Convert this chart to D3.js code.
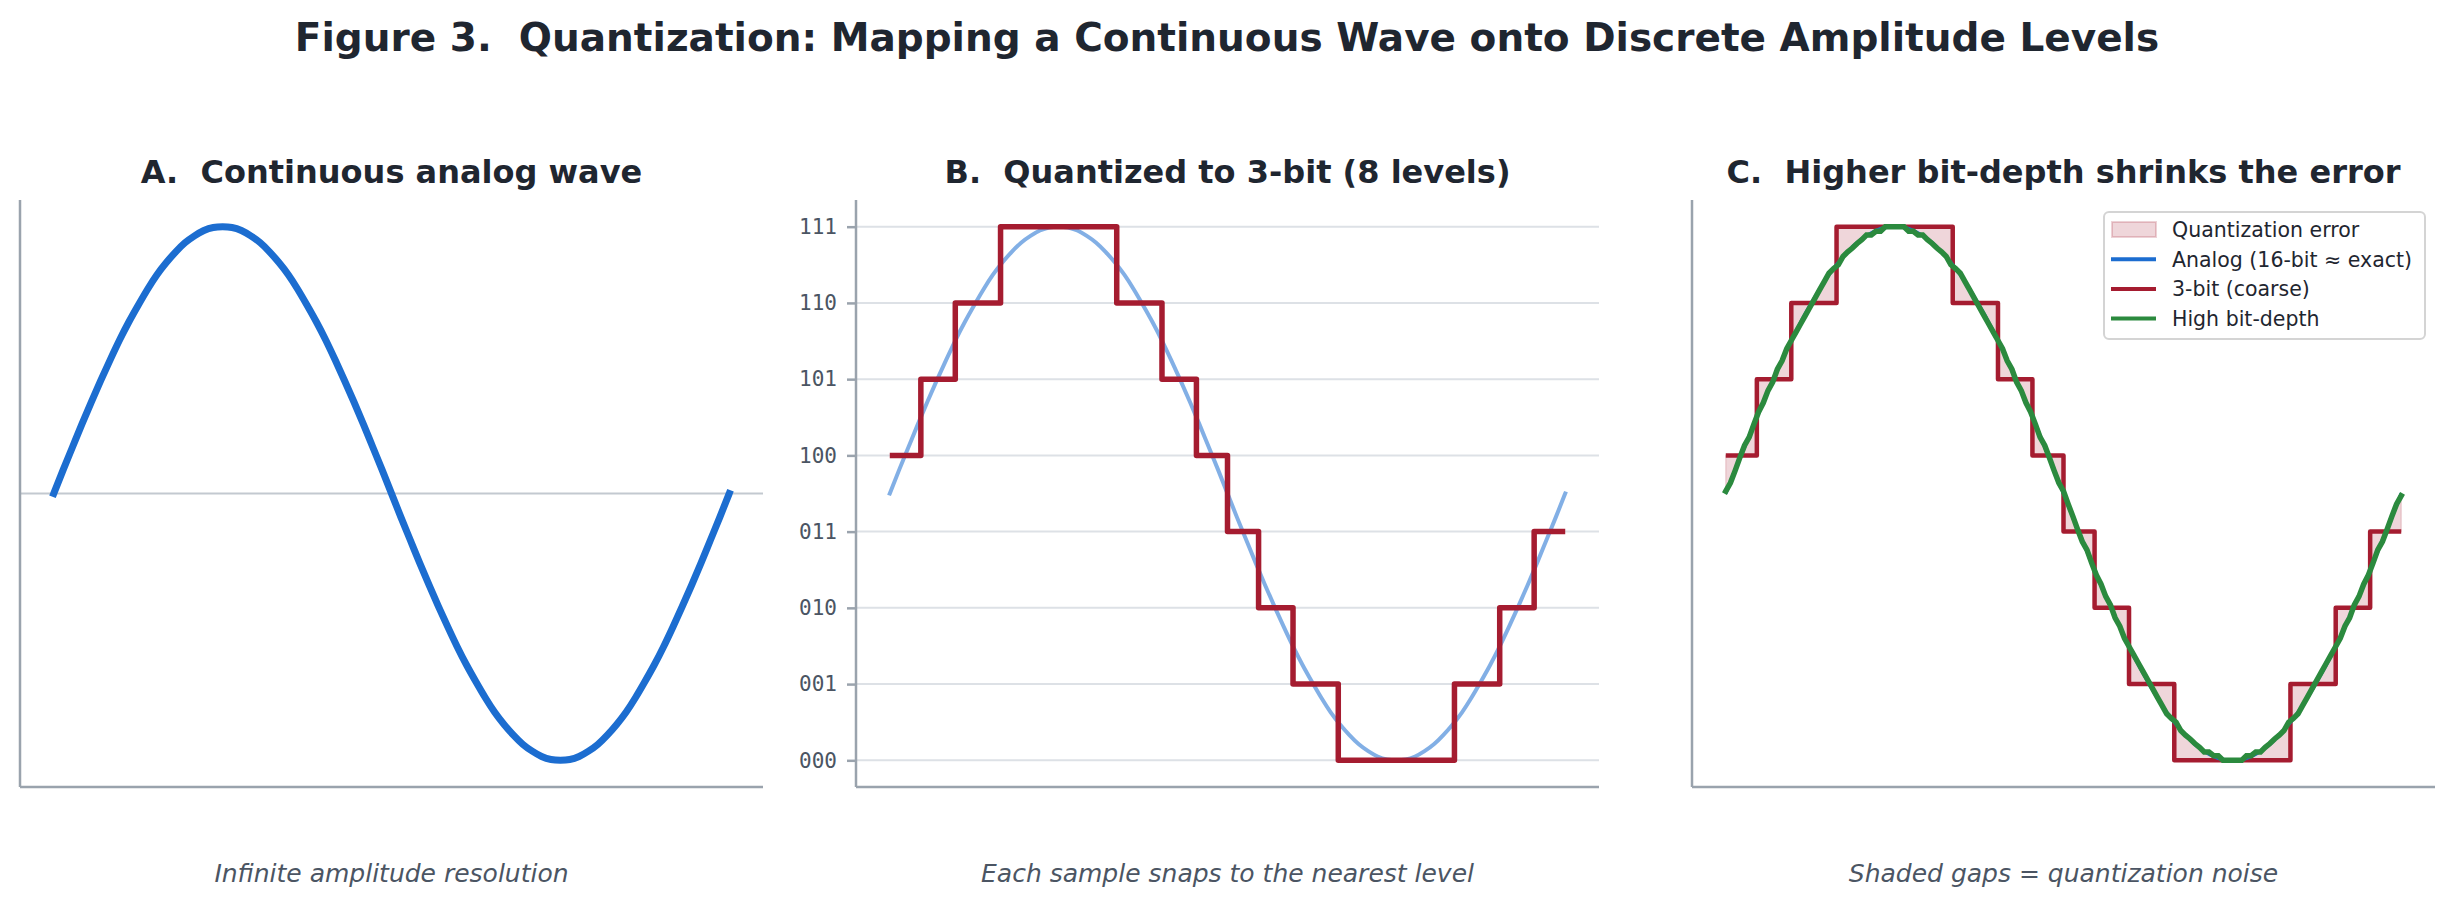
<!DOCTYPE html>
<html>
<head>
<meta charset="utf-8">
<script src="https://cdnjs.cloudflare.com/ajax/libs/d3/7.8.5/d3.min.js"></script>
<style>
  body { margin: 0; background: #fff; }
  text { font-family: "DejaVu Sans", sans-serif; }
</style>
</head>
<body>
<div id="chart"></div>
<script>
// ---- data ----
var levelLabels = ["000", "001", "010", "011", "100", "101", "110", "111"];

// one period of the analog wave, in level units (73 samples)
var analogWave = [
  3.50, 3.81, 4.11, 4.41, 4.70, 4.98, 5.25, 5.51, 5.75, 5.97, 6.18, 6.37, 6.53, 6.67, 6.79, 6.88, 6.95, 6.99, 7.00,
  6.99, 6.95, 6.88, 6.79, 6.67, 6.53, 6.37, 6.18, 5.97, 5.75, 5.51, 5.25, 4.98, 4.70, 4.41, 4.11, 3.81, 3.50,
  3.19, 2.89, 2.59, 2.30, 2.02, 1.75, 1.49, 1.25, 1.03, 0.82, 0.63, 0.47, 0.33, 0.21, 0.12, 0.05, 0.01, 0.00,
  0.01, 0.05, 0.12, 0.21, 0.33, 0.47, 0.63, 0.82, 1.03, 1.25, 1.49, 1.75, 2.02, 2.30, 2.59, 2.89, 3.19, 3.50
];

// 3-bit staircase: where each level starts (fraction of the period) and its level
var stepEdges  = [0, 0.046, 0.097, 0.164, 0.336, 0.403, 0.454, 0.5, 0.546, 0.597, 0.664, 0.836, 0.903, 0.954, 1];
var stepLevels = [4, 5, 6, 7, 6, 5, 4, 3, 2, 1, 0, 1, 2, 3];

// high bit-depth version (145 samples)
var highBitWave = [
  3.53, 3.64, 3.80, 3.97, 4.13, 4.24, 4.41, 4.57, 4.69, 4.85, 4.96, 5.13, 5.24, 5.40, 5.51, 5.62, 5.73, 5.84, 5.95,
  6.06, 6.17, 6.28, 6.39, 6.45, 6.50, 6.61, 6.67, 6.72, 6.78, 6.83, 6.89, 6.89, 6.94, 6.94, 7.00, 7.00, 7.00,
  7.00, 7.00, 6.94, 6.94, 6.89, 6.89, 6.83, 6.78, 6.72, 6.67, 6.61, 6.50, 6.45, 6.39, 6.28, 6.17, 6.06, 5.95,
  5.84, 5.73, 5.62, 5.51, 5.40, 5.24, 5.13, 4.96, 4.85, 4.69, 4.57, 4.41, 4.24, 4.13, 3.97, 3.80, 3.64, 3.53,
  3.36, 3.20, 3.03, 2.87, 2.76, 2.59, 2.43, 2.31, 2.15, 2.04, 1.87, 1.76, 1.60, 1.49, 1.38, 1.27, 1.16, 1.05,
  0.94, 0.83, 0.72, 0.61, 0.55, 0.50, 0.39, 0.33, 0.28, 0.22, 0.17, 0.11, 0.11, 0.06, 0.06, 0.00, 0.00, 0.00,
  0.00, 0.00, 0.06, 0.06, 0.11, 0.11, 0.17, 0.22, 0.28, 0.33, 0.39, 0.50, 0.55, 0.61, 0.72, 0.83, 0.94, 1.05,
  1.16, 1.27, 1.38, 1.49, 1.60, 1.76, 1.87, 2.04, 2.15, 2.31, 2.43, 2.59, 2.76, 2.87, 3.03, 3.20, 3.36, 3.47
];

var figTitle = "Figure 3.  Quantization: Mapping a Continuous Wave onto Discrete Amplitude Levels";
var panelTitles = ["A.  Continuous analog wave", "B.  Quantized to 3-bit (8 levels)", "C.  Higher bit-depth shrinks the error"];
var panelNotes = ["Infinite amplitude resolution", "Each sample snaps to the nearest level", "Shaded gaps = quantization noise"];
var legendLabels = ["Quantization error", "Analog (16-bit \u2248 exact)", "3-bit (coarse)", "High bit-depth"];

// ---- styles ----
var BLUE = "#1c6dd0", RED = "#a51c30", GREEN = "#2b8a3e";
var SPINE = "#9aa3ad", INK = "#1f2630", MUTED = "#4b5563";

var W = 2454, H = 908;
var panelX = [20, 856, 1692], panelW = 743, panelTop = 200, panelBottom = 787;
var ph = panelBottom - panelTop;

var svg = d3.select("#chart").append("svg")
    .attr("width", W).attr("height", H);

svg.append("text")
    .attr("x", W / 2).attr("y", 51)
    .attr("text-anchor", "middle")
    .attr("font-size", 39).attr("font-weight", "bold")
    .attr("fill", INK)
    .style("white-space", "pre")
    .text(figTitle);

var x = d3.scaleLinear().domain([-0.05, 1.05]).range([0, panelW]);
var y = d3.scaleLinear().domain([-0.35, 7.35]).range([ph, 0]);

var analogPts = analogWave.map(function(v, i) { return [i / (analogWave.length - 1), v]; });
var highPts = highBitWave.map(function(v, i) { return [i / (highBitWave.length - 1), v]; });
var stepPts = stepLevels.map(function(l, i) { return [stepEdges[i], l]; });
stepPts.push([stepEdges[stepEdges.length - 1], stepLevels[stepLevels.length - 1]]);

var smooth = d3.line().x(function(d) { return x(d[0]); }).y(function(d) { return y(d[1]); }).curve(d3.curveNatural);
var straight = d3.line().x(function(d) { return x(d[0]); }).y(function(d) { return y(d[1]); });
var stairs = d3.line().x(function(d) { return x(d[0]); }).y(function(d) { return y(d[1]); }).curve(d3.curveStepAfter);

function panel(i) {
  var g = svg.append("g").attr("transform", "translate(" + panelX[i] + "," + panelTop + ")");
  svg.append("text")
      .attr("x", panelX[i] + panelW / 2).attr("y", 183)
      .attr("text-anchor", "middle")
      .attr("font-size", 32).attr("font-weight", "bold")
      .attr("fill", INK)
      .style("white-space", "pre")
      .text(panelTitles[i]);
  svg.append("text")
      .attr("x", panelX[i] + panelW / 2).attr("y", 882)
      .attr("text-anchor", "middle")
      .attr("font-size", 25).attr("font-style", "italic")
      .attr("fill", MUTED)
      .text(panelNotes[i]);
  return g;
}

function spines(g) {
  g.append("line").attr("x1", 0).attr("x2", 0).attr("y1", 0).attr("y2", ph)
      .attr("stroke", SPINE).attr("stroke-width", 2.5);
  g.append("line").attr("x1", 0).attr("x2", panelW).attr("y1", ph).attr("y2", ph)
      .attr("stroke", SPINE).attr("stroke-width", 2.5);
}

// ---- A ----
var gA = panel(0);
gA.append("line")
    .attr("x1", 0).attr("x2", panelW).attr("y1", y(3.5)).attr("y2", y(3.5))
    .attr("stroke", "#c3c9d0").attr("stroke-width", 2);
gA.append("path")
    .attr("d", smooth(analogPts))
    .attr("fill", "none").attr("stroke", BLUE).attr("stroke-width", 7)
    .attr("stroke-linecap", "square").attr("stroke-linejoin", "round");
spines(gA);

// ---- B ----
var gB = panel(1);
gB.selectAll(".grid").data(d3.range(levelLabels.length)).enter().append("line")
    .attr("x1", 0).attr("x2", panelW)
    .attr("y1", function(d) { return y(d); }).attr("y2", function(d) { return y(d); })
    .attr("stroke", "#dde1e6").attr("stroke-width", 2);
gB.append("path")
    .attr("d", smooth(analogPts))
    .attr("fill", "none").attr("stroke", BLUE).attr("stroke-opacity", 0.55).attr("stroke-width", 4)
    .attr("stroke-linecap", "square");
gB.append("path")
    .attr("d", stairs(stepPts))
    .attr("fill", "none").attr("stroke", RED).attr("stroke-width", 5.5)
    .attr("stroke-linejoin", "round");
var yAxis = gB.append("g")
    .call(d3.axisLeft(y)
      .tickValues(d3.range(levelLabels.length))
      .tickFormat(function(d) { return levelLabels[d]; })
      .tickSize(9).tickPadding(10));
yAxis.select(".domain").remove();
yAxis.selectAll(".tick line").attr("stroke", SPINE).attr("stroke-width", 2.5);
yAxis.selectAll(".tick text")
    .attr("fill", MUTED)
    .style("font-family", "'DejaVu Sans Mono', monospace")
    .style("font-size", "21px");
spines(gB);

// ---- C ----
var gC = panel(2);
// area between the analog wave and the staircase
var stepVerts = [];
for (var k = 0; k < stepLevels.length; k++) {
  stepVerts.push([stepEdges[k], stepLevels[k]]);
  stepVerts.push([stepEdges[k + 1], stepLevels[k]]);
}
stepVerts.reverse();
var errPath = smooth(analogPts) + straight(stepVerts).replace(/^M/, "L") + "Z";
gC.append("path")
    .attr("d", errPath)
    .attr("fill", RED).attr("fill-opacity", 0.18)
    .attr("stroke", RED).attr("stroke-opacity", 0.15).attr("stroke-width", 1.5);
gC.append("path")
    .attr("d", stairs(stepPts))
    .attr("fill", "none").attr("stroke", RED).attr("stroke-width", 4.5)
    .attr("stroke-linejoin", "round");
gC.append("path")
    .attr("d", smooth(analogPts))
    .attr("fill", "none").attr("stroke", BLUE).attr("stroke-width", 3.5);
gC.append("path")
    .attr("d", straight(highPts))
    .attr("fill", "none").attr("stroke", GREEN).attr("stroke-width", 5.5)
    .attr("stroke-linejoin", "miter").attr("stroke-linecap", "square");
spines(gC);

// legend
var lg = gC.append("g").attr("transform", "translate(412,12)");
lg.append("rect")
    .attr("width", 321).attr("height", 127).attr("rx", 5)
    .attr("fill", "#fff").attr("fill-opacity", 0.85)
    .attr("stroke", "#d4d4d4").attr("stroke-width", 2);
var rows = lg.selectAll(".row").data(legendLabels).enter().append("g")
    .attr("transform", function(d, i) { return "translate(0," + (17.5 + i * 29.7) + ")"; });
rows.each(function(d, i) {
  var r = d3.select(this);
  if (i === 0) {
    r.append("rect").attr("x", 8).attr("y", -7.5).attr("width", 44).attr("height", 15)
        .attr("fill", RED).attr("fill-opacity", 0.18)
        .attr("stroke", RED).attr("stroke-opacity", 0.2).attr("stroke-width", 2);
  } else {
    r.append("line").attr("x1", 7).attr("x2", 52).attr("y1", 0).attr("y2", 0)
        .attr("stroke", [null, BLUE, RED, GREEN][i]).attr("stroke-width", 4);
  }
  r.append("text").attr("x", 68).attr("dy", "0.36em")
      .attr("font-size", 20.5).attr("fill", INK)
      .text(d);
});
</script>
</body>
</html>
